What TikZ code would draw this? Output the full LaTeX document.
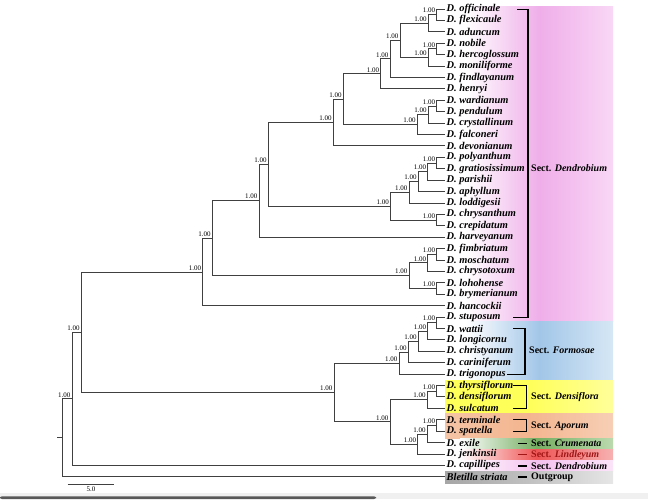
\documentclass[tikz,border=0pt]{standalone}
\usepackage{fontspec}
\setmainfont{Liberation Serif}
\definecolor{treegray}{HTML}{404040}
\definecolor{pinkA}{HTML}{EFAEE9}
\definecolor{pinkB}{HTML}{F9D7F6}
\definecolor{blueA}{HTML}{A2C6E8}
\definecolor{blueB}{HTML}{D6E7F5}
\definecolor{yellowA}{HTML}{FFFF5A}
\definecolor{yellowB}{HTML}{FFFF9A}
\definecolor{orangeA}{HTML}{F3B58F}
\definecolor{orangeB}{HTML}{F7CFB5}
\definecolor{greenA}{HTML}{76AE63}
\definecolor{greenB}{HTML}{BBDAAE}
\definecolor{redA}{HTML}{EE5555}
\definecolor{redB}{HTML}{F7B1B1}
\definecolor{pinkC}{HTML}{F4C2EF}
\definecolor{pinkD}{HTML}{FBE3F9}
\definecolor{greyA}{HTML}{A6A6A6}
\definecolor{greyB}{HTML}{E6E6E6}
\definecolor{lindred}{HTML}{A01515}
\newcommand\supp[1]{\node[support] (s#1) at ([xshift=-1.5pt,yshift=1.5pt]#1) {1.00};}
\begin{document}
\begin{tikzpicture}[x=1pt,y=-1pt,
  branch/.style={draw=treegray, line width=0.9pt},
  taxon/.style={anchor=west, inner xsep=1.5pt, inner ysep=0pt, font=\fontsize{10.4}{10.4}\selectfont\bfseries\itshape},
  support/.style={anchor=south east, inner sep=0pt, font=\fontsize{7}{7}\selectfont},
  sectlabel/.style={anchor=west, inner sep=0pt, font=\fontsize{10}{10}\selectfont\bfseries},
  bracket/.style={draw=black, line width=1.1pt}]
\useasboundingbox (0,0) rectangle (648,499);
% colour bands
\shade[left color=white, right color=pinkB, middle color=pinkA] (466,6.7) rectangle (613,321.7);
\shade[left color=white, right color=blueB, middle color=blueA] (466,321.7) rectangle (613,380);
\shade[left color=yellowA, right color=yellowB, middle color=yellowA] (445,380) rectangle (613,413.3);
\shade[left color=orangeA!80, right color=orangeB, middle color=orangeA] (445,413.3) rectangle (613,438.7);
\shade[left color=white, right color=greenB, middle color=greenA] (460,438.7) rectangle (613,449);
\shade[left color=white, right color=redB, middle color=redA] (460,449) rectangle (613,460);
\shade[left color=white, right color=pinkD, middle color=pinkC] (460,460) rectangle (613,471.3);
\shade[left color=greyA, right color=greyB, middle color=greyA!70] (445,471.3) rectangle (613,483);
% bottom strip
\fill[gray!12] (0,493) rectangle (648,499);
\fill[black!65, rounded corners=2pt] (0,496.3) rectangle (376,499);
% leaves
\foreach \t [count=\i] in {D. officinale, D. flexicaule, D. aduncum, D. nobile, D. hercoglossum,
  D. moniliforme, D. findlayanum, D. henryi, D. wardianum, D. pendulum, D. crystallinum,
  D. falconeri, D. devonianum, D. polyanthum, D. gratiosissimum, D. parishii, D. aphyllum,
  D. loddigesii, D. chrysanthum, D. crepidatum, D. harveyanum, D. fimbriatum, D. moschatum,
  D. chrysotoxum, D. lohohense, D. brymerianum, D. hancockii, D. stuposum, D. wattii,
  D. longicornu, D. christyanum, D. cariniferum, D. trigonopus, D. thyrsiflorum,
  D. densiflorum, D. sulcatum, D. terminale, D. spatella, D. exile, D. jenkinsii,
  D. capillipes, Bletilla striata}
  \node[taxon] (l\i) at (445,{9+(\i-1)*11.41}) {\t};
% internal nodes
\coordinate (a1) at (436.7,14.71);
\coordinate (a2) at (428.3,23.26);
\coordinate (a3) at (436.7,48.94);
\coordinate (a4) at (428.3,57.49);
\coordinate (a5) at (400,40.38);
\coordinate (a6) at (390,58.92);
\coordinate (a7) at (380.7,73.90);
\coordinate (b1) at (436.7,105.99);
\coordinate (b2) at (428.3,114.54);
\coordinate (b3) at (417.3,124.53);
\coordinate (c1) at (343.3,99.21);
\coordinate (c2) at (333.3,122.57);
\coordinate (d1) at (436.7,163.04);
\coordinate (d2) at (427.7,171.59);
\coordinate (d3) at (418.3,181.58);
\coordinate (d4) at (409,192.27);
\coordinate (d5) at (436.7,220.09);
\coordinate (d6) at (390.5,206.18);
\coordinate (e1) at (268.3,164.37);
\coordinate (e2) at (259,200.79);
\coordinate (f1) at (436.7,254.32);
\coordinate (f2) at (427.7,262.87);
\coordinate (f3) at (436.7,288.55);
\coordinate (f4) at (409,275.71);
\coordinate (g1) at (212.3,238.25);
\coordinate (g2) at (202.7,271.95);
\coordinate (h1) at (436.7,322.78);
\coordinate (h2) at (427.7,331.33);
\coordinate (h3) at (418.3,341.32);
\coordinate (h4) at (408.3,352.01);
\coordinate (h5) at (399,363.07);
\coordinate (i1) at (436.7,391.24);
\coordinate (i2) at (427.3,399.79);
\coordinate (j1) at (436.7,425.47);
\coordinate (j2) at (427.3,434.02);
\coordinate (j3) at (417.7,444.01);
\coordinate (i3) at (390,421.90);
\coordinate (k1) at (334,392.48);
\coordinate (r1) at (81.3,332.22);
\coordinate (r2) at (72,398.81);
\coordinate (r3) at (62.7,437.81);
\coordinate (root) at (57.3,437.81);
% branches
\foreach \p/\c in {a1/l1.west, a1/l2.west, a2/a1, a2/l3.west, a3/l4.west, a3/l5.west,
  a4/a3, a4/l6.west, a5/a2, a5/a4, a6/a5, a6/l7.west, a7/a6, a7/l8.west,
  b1/l9.west, b1/l10.west, b2/b1, b2/l11.west, b3/b2, b3/l12.west,
  c1/a7, c1/b3, c2/c1, c2/l13.west,
  d1/l14.west, d1/l15.west, d2/d1, d2/l16.west, d3/d2, d3/l17.west, d4/d3, d4/l18.west,
  d5/l19.west, d5/l20.west, d6/d4, d6/d5, e1/c2, e1/d6, e2/e1, e2/l21.west,
  f1/l22.west, f1/l23.west, f2/f1, f2/l24.west, f3/l25.west, f3/l26.west, f4/f2, f4/f3,
  g1/e2, g1/f4, g2/g1, g2/l27.west,
  h1/l28.west, h1/l29.west, h2/h1, h2/l30.west, h3/h2, h3/l31.west, h4/h3, h4/l32.west,
  h5/h4, h5/l33.west, i1/l34.west, i1/l35.west, i2/i1, i2/l36.west,
  j1/l37.west, j1/l38.west, j2/j1, j2/l39.west, j3/j2, j3/l40.west, i3/i2, i3/j3,
  k1/h5, k1/i3, r1/g2, r1/k1, r2/r1, r2/l41.west, r3/r2, r3/l42.west}
  \draw[branch] (\p) |- (\c);
\draw[branch] (root) -- (r3);
% support values
\foreach \n in {a1,a2,a3,a4,a5,a6,a7,b1,b2,b3,c1,c2,d1,d2,d3,d4,d5,d6,e1,e2,
  f1,f2,f3,f4,g1,g2,h1,h2,h3,h4,h5,i1,i2,j1,j2,j3,i3,k1,r1,r2}
  {\supp{\n}}
% brackets
\draw[bracket] (517,9.5) -- (528,9.5) -- (528,317.5) -- (513,317.5);
\draw[bracket] (513,328.5) -- (525,328.5) -- (525,374.1) -- (507,374.1);
\draw[bracket] (513,385.5) -- (526.5,385.5) -- (526.5,408.4) -- (513,408.4);
\draw[bracket] (513,419.8) -- (526.5,419.8) -- (526.5,431.6) -- (513,431.6);
\draw[bracket] (518,443.3) -- (527,443.3);
\draw[bracket, draw=lindred] (518,454.5) -- (527,454.5);
\draw[bracket] (518,466) -- (527,466);
\draw[bracket] (518,477) -- (527,477);
% section labels
\node[sectlabel] (sD) at (531,168.3) {Sect. \textit{Dendrobium}};
\node[sectlabel] (sF) at (529,350.5) {Sect. \textit{Formosae}};
\node[sectlabel] (sDe) at (531,397) {Sect. \textit{Densiflora}};
\node[sectlabel] (sA) at (531,426.5) {Sect. \textit{Aporum}};
\node[sectlabel] (sC) at (531,443.5) {Sect. \textit{Crumenata}};
\node[sectlabel, text=lindred] (sL) at (531,454.8) {Sect. \textit{Lindleyum}};
\node[sectlabel] (sD2) at (531,466.2) {Sect. \textit{Dendrobium}};
\node[sectlabel] (sO) at (531,477.3) {Outgroup};
% scale bar
\coordinate (sb1) at (67.7,484.5);
\coordinate (sb2) at (114.3,484.5);
\draw[branch] (sb1) -- (sb2);
\node[support, anchor=north] (sbl) at (91,487) {5.0};
\end{tikzpicture}
\end{document}
